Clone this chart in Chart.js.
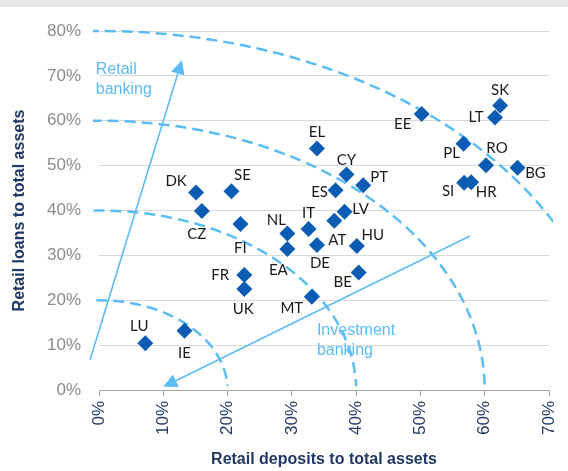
<!DOCTYPE html>
<html lang="en">
<head>
<meta charset="UTF-8">
<title>Retail loans vs retail deposits</title>
<style>
  body { margin: 0; background: #fff; }
  #wrap {
    width: 568px;
    height: 471px;
    background: linear-gradient(#e7e7e7 0, #e7e7e7 7px, #fff 7px);
  }
</style>
</head>
<body>
<div id="wrap"><canvas id="chart" width="568" height="471"></canvas></div>
<script src="https://cdn.jsdelivr.net/npm/chart.js"></script>
<script>
// data (percent of total assets)
const countries = ['DK', 'SE', 'CZ', 'FI', 'NL', 'EA', 'FR', 'UK', 'LU', 'IE', 'MT',
                   'EL', 'CY', 'ES', 'PT', 'LV', 'AT', 'IT', 'HU', 'DE', 'BE',
                   'EE', 'SK', 'LT', 'PL', 'RO', 'BG', 'SI', 'HR'];
const deposits  = [15.1, 20.6, 16.0, 22.0, 29.3, 29.3, 22.6, 22.6, 7.2, 13.3, 33.1,
                   33.9, 38.5, 36.8, 41.1, 38.2, 36.6, 32.6, 40.1, 33.9, 40.4,
                   50.2, 62.4, 61.6, 56.7, 60.2, 65.1, 56.8, 57.9];
const loans     = [44.0, 44.3, 39.9, 37.0, 34.9, 31.4, 25.6, 22.5, 10.4, 13.2, 20.8,
                   53.8, 48.0, 44.5, 45.6, 39.7, 37.7, 35.9, 32.1, 32.3, 26.2,
                   61.5, 63.4, 60.7, 54.9, 50.1, 49.5, 46.2, 46.3];
const xTicks = [0, 10, 20, 30, 40, 50, 60, 70];
const yTicks = [0, 10, 20, 30, 40, 50, 60, 70, 80];
const arcRadii = [20, 40, 60, 80];
const retailArrow = [[-1.4, 6.7], [12.9, 73.5]];
const investArrow = [[57.7, 34.3], [10.0, 0.7]];

// label placement relative to each diamond (px)
const labelOffsets = {
  DK: [-20, -11], SE: [11, -16], CZ: [-5, 23], FI: [0, 24], NL: [-11, -13],
  EA: [-9, 21], FR: [-24, 0], UK: [-1, 20], LU: [-6, -17], IE: [0, 22],
  MT: [-20, 11], EL: [0, -16], CY: [0, -14], ES: [-16, 2], PT: [16, -8],
  LV: [16, -3], AT: [3, 19], IT: [0, -16], HU: [16, -11], DE: [3, 18],
  BE: [-16, 10], EE: [-19, 10], SK: [0, -15], LT: [-19, 0], PL: [-12, 10],
  RO: [11, -17], BG: [18, 5], SI: [-16, 8], HR: [15, 10]
};

const lightBlue = '#5cbcf6';
const navy = '#1f3864';

function drawArrow(ctx, x0, y0, x1, y1) {
  const ang = Math.atan2(y1 - y0, x1 - x0);
  const len = 14, half = 7;
  const bx = x1 - len * Math.cos(ang), by = y1 - len * Math.sin(ang);
  ctx.beginPath();
  ctx.moveTo(x0, y0);
  ctx.lineTo(bx, by);
  ctx.stroke();
  ctx.beginPath();
  ctx.moveTo(x1, y1);
  ctx.lineTo(bx + half * Math.sin(ang), by - half * Math.cos(ang));
  ctx.lineTo(bx - half * Math.sin(ang), by + half * Math.cos(ang));
  ctx.closePath();
  ctx.fill();
}

const decorations = {
  id: 'decorations',
  beforeDatasetsDraw(chart) {
    const { ctx, chartArea: a, scales: { x, y } } = chart;
    const cx = x.getPixelForValue(0), cy = y.getPixelForValue(0);

    // dashed quarter circles
    ctx.save();
    ctx.beginPath();
    ctx.rect(a.left - 6, 0, a.right - a.left + 10, a.bottom - 4);
    ctx.clip();
    ctx.strokeStyle = lightBlue;
    ctx.lineWidth = 2.5;
    ctx.setLineDash([11, 6]);
    arcRadii.forEach(r => {
      const rx = x.getPixelForValue(r) - cx;
      const ry = cy - y.getPixelForValue(r);
      ctx.beginPath();
      ctx.ellipse(cx, cy, rx, ry, 0, Math.PI, 2 * Math.PI);
      ctx.stroke();
    });
    ctx.restore();

    // arrows
    ctx.save();
    ctx.strokeStyle = lightBlue;
    ctx.fillStyle = lightBlue;
    ctx.lineWidth = 1.6;
    [retailArrow, investArrow].forEach(([p0, p1]) => {
      drawArrow(ctx,
        x.getPixelForValue(p0[0]), y.getPixelForValue(p0[1]),
        x.getPixelForValue(p1[0]), y.getPixelForValue(p1[1]));
    });

    // arrow captions
    ctx.font = '16px "Liberation Sans", Arial, sans-serif';
    ctx.textAlign = 'left';
    ctx.textBaseline = 'alphabetic';
    let tx = x.getPixelForValue(-0.5), ty = y.getPixelForValue(70.4);
    ctx.fillText('Retail', tx, ty);
    ctx.fillText('banking', tx, ty + 20);
    tx = x.getPixelForValue(33.9); ty = y.getPixelForValue(12.2);
    ctx.fillText('Investment', tx, ty);
    ctx.fillText('banking', tx, ty + 20);
    ctx.restore();
  },
  afterDatasetsDraw(chart) {
    const { ctx } = chart;
    const meta = chart.getDatasetMeta(0);
    ctx.save();
    ctx.font = '15px Lato, "Open Sans", sans-serif';
    ctx.fillStyle = '#1a1a1a';
    ctx.textAlign = 'center';
    ctx.textBaseline = 'middle';
    meta.data.forEach((pt, i) => {
      const off = labelOffsets[countries[i]] || [0, -14];
      ctx.fillText(countries[i], pt.x + off[0], pt.y + off[1]);
    });
    ctx.restore();
  }
};

new Chart(document.getElementById('chart'), {
  type: 'scatter',
  data: {
    datasets: [{
      data: countries.map((c, i) => ({ x: deposits[i], y: loans[i] })),
      pointStyle: 'rectRot',
      pointRadius: 8,
      pointHoverRadius: 8,
      backgroundColor: '#0b5cb2',
      borderColor: '#0b5cb2',
      borderWidth: 0
    }]
  },
  options: {
    responsive: false,
    animation: false,
    layout: { padding: { top: 31, right: 19, left: 0, bottom: 0 } },
    plugins: {
      legend: { display: false },
      tooltip: { enabled: false }
    },
    scales: {
      x: {
        type: 'linear',
        min: xTicks[0],
        max: xTicks[xTicks.length - 1],
        afterBuildTicks: s => { s.ticks = xTicks.map(v => ({ value: v })); },
        afterFit: s => { s.height = 81; s.paddingRight = 0; s.paddingLeft = 0; },
        ticks: {
          callback: v => v + '%',
          color: navy,
          font: { family: '"Liberation Sans", Arial, sans-serif', size: 17 },
          minRotation: 90,
          maxRotation: 90,
          autoSkip: false,
          padding: 5
        },
        grid: {
          drawOnChartArea: false,
          drawTicks: true,
          tickLength: 6,
          color: '#a6a6a6'
        },
        border: { display: true, color: '#a6a6a6', width: 1 },
        title: {
          display: true,
          text: 'Retail deposits to total assets',
          color: navy,
          font: { family: '"Liberation Sans", Arial, sans-serif', size: 16, weight: 'bold' },
          padding: { top: 0, bottom: 2 }
        }
      },
      y: {
        type: 'linear',
        min: yTicks[0],
        max: yTicks[yTicks.length - 1],
        afterBuildTicks: s => { s.ticks = yTicks.map(v => ({ value: v })); },
        afterFit: s => { s.width = 99; },
        ticks: {
          callback: v => v + '%',
          color: '#8c8c8c',
          font: { family: '"Liberation Sans", Arial, sans-serif', size: 17 },
          padding: 18
        },
        grid: {
          drawTicks: false,
          color: '#d9d9d9',
          lineWidth: 1
        },
        border: { display: false },
        title: {
          display: true,
          text: 'Retail loans to total assets',
          color: navy,
          font: { family: '"Liberation Sans", Arial, sans-serif', size: 16, weight: 'bold' },
          padding: { top: 10, bottom: 0 }
        }
      }
    }
  },
  plugins: [decorations]
});
</script>
</body>
</html>
